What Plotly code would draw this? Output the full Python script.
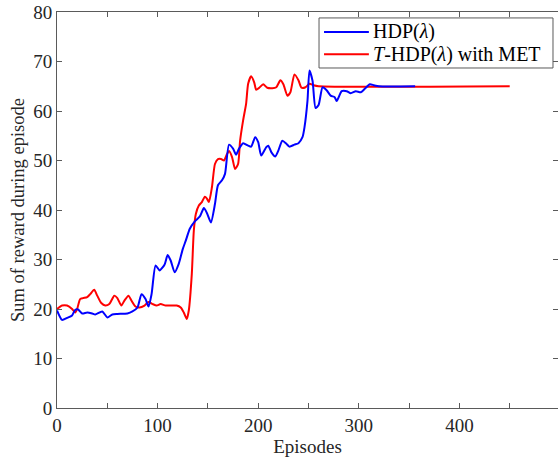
import plotly.graph_objects as go

# HDP(lambda)
hdp_ep = [0, 5, 10, 15, 18, 21, 25, 30, 35, 38, 45, 50, 55, 60, 70, 75, 80, 84, 88, 91, 94, 98,
          102, 107, 110, 113, 117, 121, 125, 128, 132, 137, 142, 146, 149, 153, 157, 160, 164,
          167, 171, 175, 178, 181, 185, 190, 193, 197, 200, 203, 208, 210, 213, 217, 220, 224,
          228, 231, 236, 240, 244, 246, 249, 251, 254, 257, 260, 264, 268, 272, 276, 278, 283,
          288, 292, 297, 302, 306, 311, 315, 320, 356]
hdp_val = [19.7, 17.8, 18.2, 18.7, 19.8, 19.9, 19.1, 19.3, 19.1, 18.9, 19.5, 18.3, 18.9, 19.0,
           19.1, 19.5, 20.3, 23.0, 22.0, 20.5, 23.0, 28.8, 27.8, 29.0, 30.9, 29.8, 27.4, 29.1,
           32.1, 33.8, 36.2, 37.7, 38.7, 40.4, 39.4, 37.5, 41.2, 45.0, 46.0, 47.3, 53.2, 52.4,
           51.2, 52.4, 53.5, 53.0, 52.8, 54.7, 53.7, 51.0, 52.7, 53.0, 51.7, 50.8, 52.0, 54.0,
           53.4, 52.8, 53.2, 53.5, 54.7, 56.7, 62.1, 68.2, 66.1, 60.6, 61.2, 64.8, 64.2, 63.1,
           62.8, 62.0, 64.0, 64.0, 63.6, 64.0, 63.8, 64.5, 65.4, 65.2, 65.0, 65.0]

# T-HDP(lambda) with MET
met_ep = [0, 5, 10, 15, 18, 20, 23, 26, 30, 33, 37, 40, 44, 48, 52, 57, 60, 64, 67, 71, 74, 78,
          82, 87, 91, 95, 99, 103, 108, 115, 119, 123, 126, 129, 131, 134, 136, 138, 141, 144,
          147, 149, 151, 154, 157, 160, 163, 166, 169, 171, 174, 177, 180, 182, 185, 188, 190,
          193, 196, 198, 201, 205, 209, 214, 218, 222, 225, 229, 232, 236, 240, 243, 247, 251,
          255, 260, 450]
met_val = [20.0, 20.7, 20.7, 20.0, 19.3, 20.0, 22.0, 22.2, 22.4, 23.0, 23.9, 22.7, 21.2, 20.7,
           21.0, 22.7, 22.2, 20.7, 21.7, 22.7, 21.7, 20.5, 20.3, 20.7, 21.4, 21.0, 20.7, 21.0,
           20.7, 20.7, 20.7, 20.3, 19.3, 18.0, 19.7, 27.1, 35.8, 39.2, 40.9, 41.6, 42.7, 42.3,
           41.6, 44.6, 49.3, 50.3, 50.3, 50.0, 51.3, 51.9, 50.7, 48.3, 49.3, 54.0, 58.1, 61.5,
           65.5, 67.0, 65.8, 64.3, 64.7, 65.4, 64.7, 64.6, 64.8, 66.2, 65.4, 63.1, 63.8, 67.4,
           66.2, 64.7, 64.8, 65.5, 65.2, 65.0, 65.0]

series_names = ["HDP(<i>λ</i>)", "<i>T</i>-HDP(<i>λ</i>) with MET"]
series_colors = ["#0000ff", "#ff0000"]

x_ticks = [0, 50, 100, 150, 200, 250, 300, 350, 400, 450]
x_tick_text = ["0", "", "100", "", "200", "", "300", "", "400", ""]
y_ticks = [0, 10, 20, 30, 40, 50, 60, 70, 80]

FONT = "Liberation Serif"
AX = "#262626"
LINEC = "#5a5a5a"

fig = go.Figure()
fig.add_trace(go.Scatter(x=met_ep, y=met_val, mode="lines", name=series_names[1],
                         line=dict(color=series_colors[1], width=2, shape="spline", smoothing=0.6),
                         showlegend=False))
fig.add_trace(go.Scatter(x=hdp_ep, y=hdp_val, mode="lines", name=series_names[0],
                         line=dict(color=series_colors[0], width=2, shape="spline", smoothing=0.6),
                         showlegend=False))

axis_common = dict(showgrid=False, zeroline=False, showline=True, linecolor=LINEC,
                   linewidth=1, ticks="inside", ticklen=5, tickcolor=LINEC, mirror="ticks",
                   automargin=False, ticklabeloverflow="allow",
                   tickfont=dict(family=FONT, size=19, color=AX))

fig.update_xaxes(range=[0, 498], tickvals=x_ticks, ticktext=x_tick_text,
                 title=dict(text="Episodes", font=dict(family=FONT, size=19, color=AX), standoff=4),
                 **axis_common)
fig.update_yaxes(range=[0, 80], tickvals=y_ticks,
                 title=dict(text="Sum of reward during episode", font=dict(family=FONT, size=18.5, color=AX), standoff=3),
                 **axis_common)

# legend box drawn in paper coordinates (plot area: 501 x 396 px)
box = dict(x0=0.523, x1=0.990, y0=0.8586, y1=0.985)
row_y = [0.9495, 0.893]
shapes = [dict(type="rect", xref="paper", yref="paper", x0=box["x0"], x1=box["x1"],
               y0=box["y0"], y1=box["y1"], line=dict(color=LINEC, width=1), fillcolor="white",
               layer="above")]
annotations = []
for name, col, ry in zip(series_names, series_colors, row_y):
    shapes.append(dict(type="line", xref="paper", yref="paper", x0=0.533, x1=0.6225, y0=ry, y1=ry,
                       line=dict(color=col, width=2), layer="above"))
    annotations.append(dict(xref="paper", yref="paper", x=0.6265, y=ry, xanchor="left",
                            yanchor="middle", text=name, showarrow=False,
                            font=dict(family=FONT, size=20, color="black")))

fig.update_layout(
    width=558, height=462,
    margin=dict(l=57, r=0, t=12, b=54),
    plot_bgcolor="white", paper_bgcolor="white",
    font=dict(family=FONT, size=19, color="black"),
    shapes=shapes, annotations=annotations,
    showlegend=False,
)

fig.write_html("out.html", config={"displayModeBar": False},
               post_script="document.body.style.margin='0px';")
